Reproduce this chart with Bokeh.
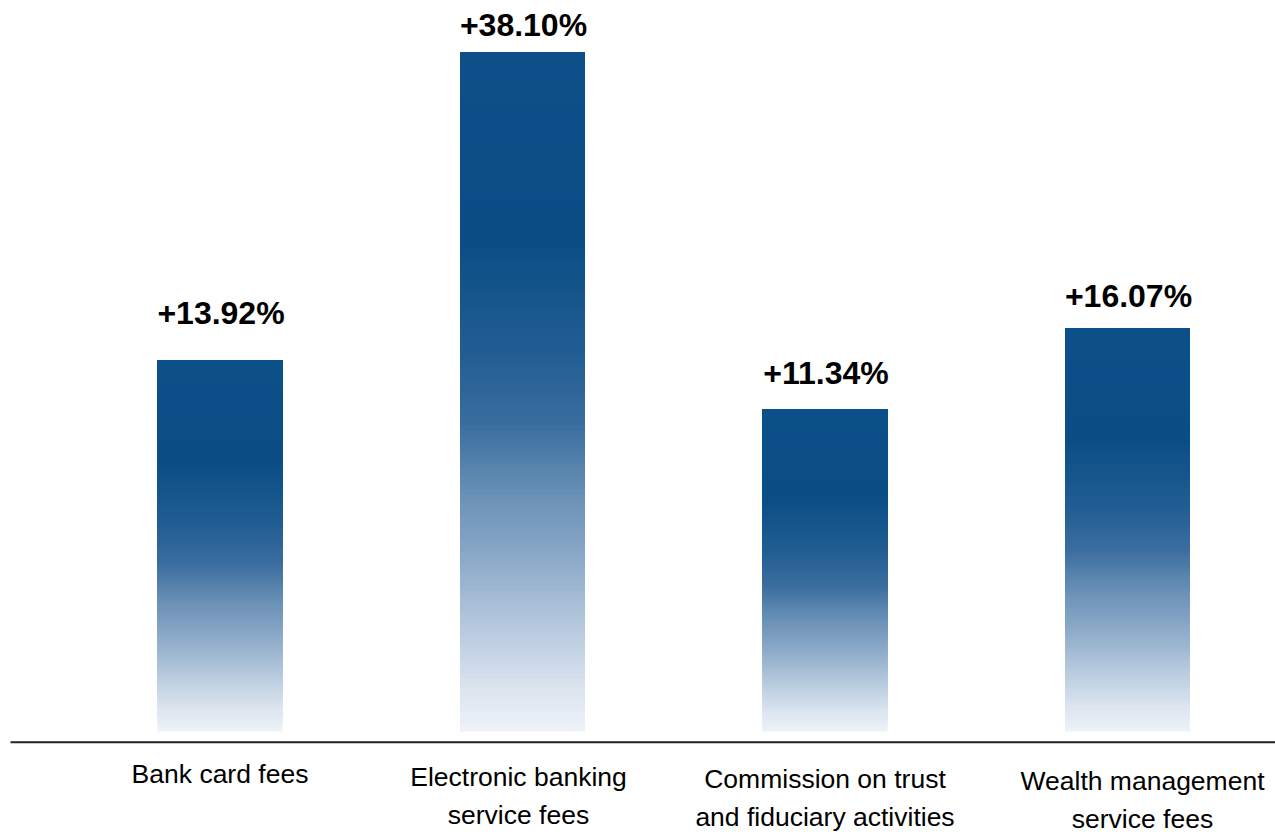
import numpy as np
from bokeh.plotting import figure
from bokeh.models import ColumnDataSource, Range1d
from bokeh.core.properties import value
from bokeh.embed import file_html
from bokeh.resources import INLINE

# ---- data ----
categories = ["Bank card fees", "Electronic banking\nservice fees",
              "Commission on trust\nand fiduciary activities", "Wealth management\nservice fees"]
growth_pct = [13.92, 38.10, 11.34, 16.07]
# bar heights as drawn in the reference (relative display units, not to scale with %)
bar_heights = [371, 679, 322, 403]

# ---- styling ----
W, H = 1275, 835
FONT = "Liberation Sans"
stops = [(0.00, "#0d5089"), (0.28, "#0b4e86"), (0.45, "#235e93"), (0.55, "#3b6e9f"),
         (0.65, "#6990b6"), (0.75, "#8eabc9"), (0.85, "#b7cade"), (0.94, "#dce5f0"),
         (1.00, "#eef2f8")]
label_gap_px = [48, 28, 37, 33]
cat_x_off = [0, -4, 0, 15]
cat_y_off = [0, 3, 5, 7]


def hex2rgb(h):
    h = h.lstrip("#")
    return np.array([int(h[i:i + 2], 16) for i in (0, 2, 4)], dtype=float)


def grad_color(f):
    for (f0, c0), (f1, c1) in zip(stops[:-1], stops[1:]):
        if f0 <= f <= f1:
            t = (f - f0) / (f1 - f0) if f1 > f0 else 0
            c = hex2rgb(c0) * (1 - t) + hex2rgb(c1) * t
            return "#%02x%02x%02x" % tuple(int(round(v)) for v in c)
    return stops[-1][1]


n = len(categories)
xs = list(range(n))
spacing_px = 302.5
x0_px = 219.5
x_start = -x0_px / spacing_px
x_end = x_start + W / spacing_px
base_px = 731
y_start = base_px - H
y_end = base_px

p = figure(width=W, height=H, output_backend="svg", toolbar_location=None,
           x_range=Range1d(x_start, x_end), y_range=Range1d(y_start, y_end),
           min_border=0, outline_line_color=None, background_fill_color="white",
           border_fill_color="white")
p.axis.visible = False
p.grid.visible = False

# gradient bars: stacked quads from bottom to top, each covering to the bar top
N = 140
bw = 125 / spacing_px
L, R, B, T, C = [], [], [], [], []
for i, hgt in zip(xs, bar_heights):
    for k in range(N):
        L.append(i - bw / 2)
        R.append(i + bw / 2)
        B.append(hgt * k / N)
        T.append(hgt)
        C.append(grad_color(1 - (k + 0.5) / N))
p.quad(source=ColumnDataSource(dict(left=L, right=R, bottom=B, top=T, color=C)),
       left="left", right="right", bottom="bottom", top="top",
       fill_color="color", line_color=None)

# baseline
p.segment(x0=[x_start + 10 / spacing_px], x1=[x_end], y0=[-10.7], y1=[-10.7],
          line_color="#222222", line_width=2)

# value labels
lbl = ColumnDataSource(dict(
    x=xs, y=bar_heights,
    text=["+%.2f%%" % v for v in growth_pct],
    yoff=[-g for g in label_gap_px],
))
p.text(x="x", y="y", text="text", y_offset="yoff", source=lbl,
       text_font=value(FONT), text_font_style="bold", text_font_size="32px",
       text_align="center", text_baseline="alphabetic", text_color="#000000",
       x_offset=1)

# category labels
cat = ColumnDataSource(dict(
    x=xs, y=[-27] * n, text=categories, xoff=cat_x_off, yoff=cat_y_off,
))
p.text(x="x", y="y", text="text", x_offset="xoff", y_offset="yoff", source=cat,
       text_font=value(FONT), text_font_size="26.5px", text_align="center",
       text_baseline="top", text_line_height=1.27, text_color="#000000")

open("out.html", "w").write(file_html(p, INLINE))
